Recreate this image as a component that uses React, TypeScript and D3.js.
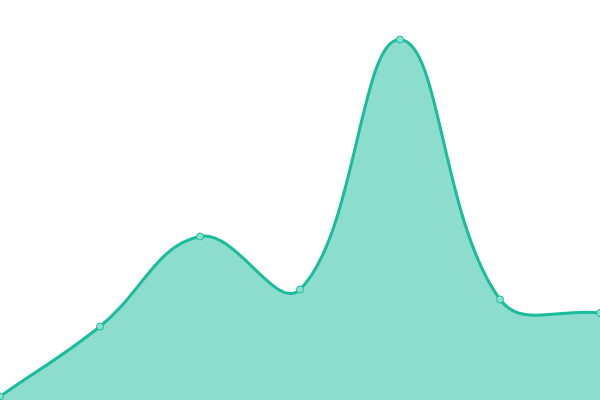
import React, { useEffect, useRef } from "react";
import * as d3 from "d3";

const labels = ["A", "B", "C", "D", "E", "F", "G"];
const values = [3.5, 73.5, 163.5, 110.5, 360.5, 100.5, 87];

const WIDTH = 600;
const HEIGHT = 400;

// spline with distance-weighted control points (tension 0.4), capped to the plot area
function splineCurve(tension: number) {
	return (context: any) => {
		let line = NaN;
		let pts: [number, number][] = [];
		const cap = (v: number, lo: number, hi: number) => Math.max(lo, Math.min(hi, v));
		return {
			areaStart() {
				line = 0;
			},
			areaEnd() {
				line = NaN;
			},
			lineStart() {
				pts = [];
			},
			point(x: number, y: number) {
				pts.push([+x, +y]);
			},
			lineEnd() {
				const n = pts.length;
				if (n) {
					const cps = pts.map((p, i) => {
						const prev = pts[i - 1] || p;
						const next = pts[i + 1] || p;
						const d01 = Math.hypot(p[0] - prev[0], p[1] - prev[1]);
						const d12 = Math.hypot(next[0] - p[0], next[1] - p[1]);
						let s01 = d01 / (d01 + d12);
						let s12 = d12 / (d01 + d12);
						if (isNaN(s01)) s01 = 0;
						if (isNaN(s12)) s12 = 0;
						const fa = tension * s01;
						const fb = tension * s12;
						const dx = next[0] - prev[0];
						const dy = next[1] - prev[1];
						return {
							inX: cap(p[0] - fa * dx, 0, WIDTH),
							inY: cap(p[1] - fa * dy, 0, HEIGHT),
							outX: cap(p[0] + fb * dx, 0, WIDTH),
							outY: cap(p[1] + fb * dy, 0, HEIGHT),
						};
					});
					if (line) context.lineTo(pts[0][0], pts[0][1]);
					else context.moveTo(pts[0][0], pts[0][1]);
					for (let i = 1; i < n; i++) {
						context.bezierCurveTo(
							cps[i - 1].outX,
							cps[i - 1].outY,
							cps[i].inX,
							cps[i].inY,
							pts[i][0],
							pts[i][1]
						);
					}
				}
				if (line || (line !== 0 && n === 1)) context.closePath();
				line = 1 - line;
			},
		};
	};
}

export default function App() {
	const svgRef = useRef<SVGSVGElement>(null);

	useEffect(() => {
		if (!svgRef.current) return;

		const svg = d3.select(svgRef.current);
		svg.selectAll("*").remove();

		const x = d3.scalePoint().domain(labels).range([0, WIDTH]);
		const y = d3.scaleLinear().domain([0, 400]).range([HEIGHT, 0]);

		const curve = splineCurve(0.4) as any;

		const area = d3
			.area<number>()
			.x((d, i) => x(labels[i]) as number)
			.y0(y(0))
			.y1((d) => y(d))
			.curve(curve);

		const line = d3
			.line<number>()
			.x((d, i) => x(labels[i]) as number)
			.y((d) => y(d))
			.curve(curve);

		svg
			.append("path")
			.datum(values)
			.attr("fill", "rgba(26,188,156,0.5)")
			.attr("d", area);

		svg
			.append("path")
			.datum(values)
			.attr("fill", "none")
			.attr("stroke", "#1abc9c")
			.attr("stroke-width", 3)
			.attr("d", line);

		svg
			.selectAll("circle")
			.data(values)
			.enter()
			.append("circle")
			.attr("cx", (d, i) => x(labels[i]) as number)
			.attr("cy", (d) => y(d))
			.attr("r", 3.5)
			.attr("fill", "#8adfcf")
			.attr("stroke", "#1abc9c")
			.attr("stroke-width", 1);
	}, []);

	return (
		<div style={{ position: "absolute", left: 0, top: 0 }}>
			<svg ref={svgRef} width={WIDTH} height={HEIGHT} style={{ display: "block" }} />
		</div>
	);
}
